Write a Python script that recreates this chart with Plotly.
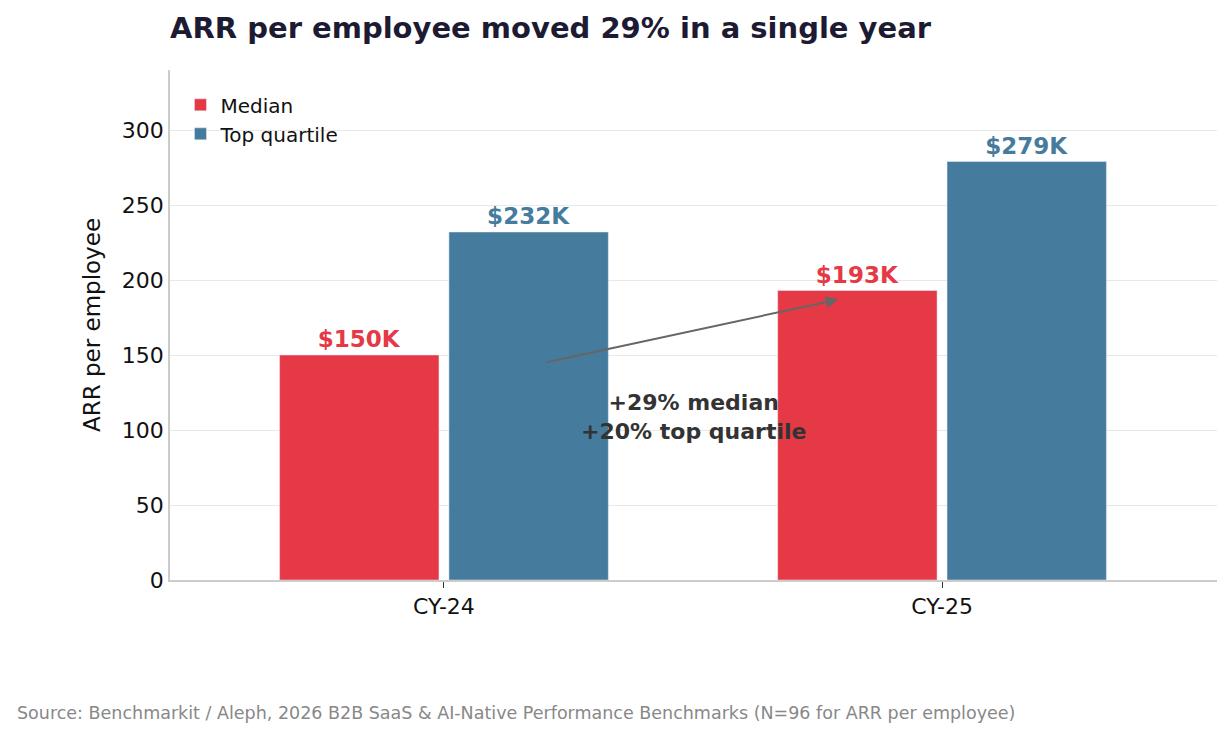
import plotly.graph_objects as go

years = ["CY-24", "CY-25"]
median = [150, 193]
top_quartile = [232, 279]
median_labels = ["$150K", "$193K"]
top_labels = ["$232K", "$279K"]

RED = "#e63946"
BLUE = "#457b9d"
FONT = "DejaVu Sans"

xpos = list(range(len(years)))

fig = go.Figure()
fig.add_trace(go.Bar(
    x=xpos, y=median, name="Median", marker_color=RED,
    width=0.32, offset=-0.33,
    text=median_labels, textposition="outside",
    textfont=dict(color=RED, size=23, family=FONT, weight="bold"),
    cliponaxis=False,
))
fig.add_trace(go.Bar(
    x=xpos, y=top_quartile, name="Top quartile", marker_color=BLUE,
    width=0.32, offset=0.01,
    text=top_labels, textposition="outside",
    textfont=dict(color=BLUE, size=23, family=FONT, weight="bold"),
    cliponaxis=False,
))

# growth arrow and note
fig.add_annotation(
    x=0.791, y=187, ax=0.203, ay=145, xref="x", yref="y", axref="x", ayref="y",
    showarrow=True, arrowhead=2, arrowsize=1.2, arrowwidth=2, arrowcolor="#666666", text="",
)
fig.add_annotation(
    x=0.5, y=109, xref="x", yref="y", showarrow=False,
    text="<b>+29% median<br>+20% top quartile</b>",
    font=dict(size=22, color="#333333", family=FONT),
)
fig.add_annotation(
    x=-155 / 1047, y=-(705 - 572) / 510, xref="paper", yref="paper",
    xanchor="left", yanchor="middle", showarrow=False,
    text="Source: Benchmarkit / Aleph, 2026 B2B SaaS & AI-Native Performance Benchmarks (N=96 for ARR per employee)",
    font=dict(size=17.5, color="#888888", family=FONT),
)

fig.update_layout(
    width=1215, height=722,
    margin=dict(l=162, r=6, t=62, b=150),
    paper_bgcolor="white", plot_bgcolor="white",
    font=dict(family=FONT, size=22, color="#111111"),
    title=dict(text="<b>ARR per employee moved 29% in a single year</b>",
               x=162 / 1215, xanchor="left", y=1 - 20 / 722, yanchor="middle",
               font=dict(size=29, color="#1d1b33", family=FONT)),
    legend=dict(x=0.01, y=0.97, xanchor="left", yanchor="top",
                font=dict(size=20), bgcolor="rgba(0,0,0,0)"),
    showlegend=True,
)
fig.update_xaxes(
    range=[-0.55, 1.552], tickmode="array", tickvals=xpos, ticktext=years,
    showline=True, linecolor="#cccccc", linewidth=1.5, ticks="outside",
    tickcolor="#333333", ticklen=6, showgrid=False, zeroline=False,
    tickfont=dict(size=22),
)
fig.update_yaxes(
    range=[0, 340], dtick=50, showgrid=True, gridcolor="#e8e8e8",
    showline=True, linecolor="#cccccc", linewidth=1.5, zeroline=False,
    tickfont=dict(size=22),
    title=dict(text="ARR per employee", font=dict(size=23)),
)

fig.write_html("out.html")
